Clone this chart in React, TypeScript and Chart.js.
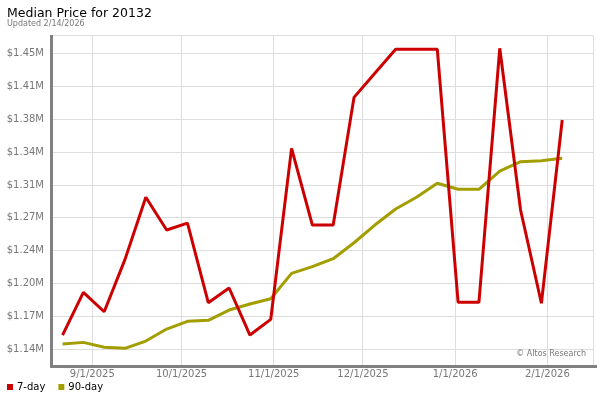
import React, { useEffect, useRef } from "react";
import { Chart, registerables } from "chart.js";

Chart.register(...registerables);

const TITLE = "Median Price for 20132";
const SUBTITLE = "Updated 2/14/2026";
const WATERMARK = "\u00A9 Altos Research";

const dates = [
  "2025-08-22", "2025-08-29", "2025-09-05", "2025-09-12", "2025-09-19",
  "2025-09-26", "2025-10-03", "2025-10-10", "2025-10-17", "2025-10-24",
  "2025-10-31", "2025-11-07", "2025-11-14", "2025-11-21", "2025-11-28",
  "2025-12-05", "2025-12-12", "2025-12-19", "2025-12-26", "2026-01-02",
  "2026-01-09", "2026-01-16", "2026-01-23", "2026-01-30", "2026-02-06",
];

const sevenDay = [
  1150200, 1195100, 1174700, 1229800, 1295100, 1260700, 1268000, 1184200,
  1199700, 1150200, 1166700, 1346600, 1265900, 1265900, 1400200, 1425500,
  1450700, 1450700, 1450700, 1184600, 1184600, 1451800, 1281700, 1183600,
  1376400,
];

const ninetyDay = [
  1140800, 1142500, 1137300, 1136200, 1143900, 1156500, 1164600, 1165700,
  1176500, 1182800, 1188400, 1215100, 1222100, 1230500, 1247300, 1265900,
  1282800, 1295100, 1309800, 1303500, 1303500, 1322700, 1332500, 1333500,
  1336100,
];

const seriesNames = ["7-day", "90-day"];
const seriesColors = ["#cc0000", "#a39e00"];

const yTicks = [
  1135500, 1170000, 1204500, 1239000, 1273500, 1308000, 1342500, 1377000,
  1411500, 1446000,
];
const yMin = 1118700;
const yMax = 1465800;

const xTickDates = [
  "2025-09-01", "2025-10-01", "2025-11-01", "2025-12-01", "2026-01-01", "2026-02-01",
];
const xRangeStart = "2025-08-18";
const xRangeEnd = "2026-02-16";

const dayNum = (s: string) => {
  const [y, m, d] = s.split("-").map(Number);
  return Date.UTC(y, m - 1, d) / 86400000;
};
const fmtDay = (n: number) => {
  const dt = new Date(Math.round(n) * 86400000);
  return `${dt.getUTCMonth() + 1}/${dt.getUTCDate()}/${dt.getUTCFullYear()}`;
};

const FONT = "'DejaVu Sans', Verdana, sans-serif";

const decorPlugin = {
  id: "decor",
  beforeDatasetsDraw(chart: any) {
    const { ctx, chartArea: a } = chart;
    ctx.save();
    ctx.strokeStyle = "#dddddd";
    ctx.lineWidth = 1;
    ctx.beginPath();
    ctx.moveTo(a.left, a.top + 0.5);
    ctx.lineTo(a.right + 0.5, a.top + 0.5);
    ctx.lineTo(a.right + 0.5, a.bottom);
    ctx.stroke();
    // watermark
    ctx.fillStyle = "#777777";
    ctx.font = `8px ${FONT}`;
    ctx.textAlign = "right";
    ctx.textBaseline = "middle";
    ctx.fillText(WATERMARK, a.right - 7, a.bottom - 11);
    ctx.restore();
  },
  afterDraw(chart: any) {
    const { ctx, chartArea: a } = chart;
    ctx.save();
    ctx.strokeStyle = "#808080";
    ctx.lineWidth = 3;
    ctx.beginPath();
    ctx.moveTo(a.left - 0.5, a.top);
    ctx.lineTo(a.left - 0.5, a.bottom + 1.5);
    ctx.lineTo(a.right + 4, a.bottom + 1.5);
    ctx.stroke();
    // legend
    ctx.font = `10px ${FONT}`;
    ctx.textBaseline = "middle";
    ctx.textAlign = "left";
    let x = 7;
    const cy = 387;
    seriesNames.forEach((name, i) => {
      ctx.fillStyle = seriesColors[i];
      ctx.fillRect(x, cy - 3, 6, 6);
      ctx.fillStyle = "#000000";
      ctx.fillText(name, x + 10, cy);
      x += 10 + ctx.measureText(name).width + 13;
    });
    ctx.restore();
  },
};

export default function App() {
  const ref = useRef<HTMLCanvasElement | null>(null);
  useEffect(() => {
    if (!ref.current) return;
    const xs = dates.map(dayNum);
    const chart = new Chart(ref.current, {
      type: "line",
      data: {
        datasets: [
          {
            label: seriesNames[0],
            data: xs.map((x, i) => ({ x, y: sevenDay[i] })),
            borderColor: seriesColors[0],
            backgroundColor: seriesColors[0],
            borderWidth: 3,
            borderJoinStyle: "bevel",
            pointRadius: 0,
            tension: 0,
          },
          {
            label: seriesNames[1],
            data: xs.map((x, i) => ({ x, y: ninetyDay[i] })),
            borderColor: seriesColors[1],
            backgroundColor: seriesColors[1],
            borderWidth: 3,
            borderJoinStyle: "bevel",
            pointRadius: 0,
            tension: 0,
          },
        ],
      },
      options: {
        animation: false,
        responsive: false,
        maintainAspectRatio: false,
        layout: { padding: { left: 7, right: 7, top: 0, bottom: 0 } },
        plugins: {
          legend: { display: false },
          tooltip: { enabled: false },
          title: {
            display: true,
            text: TITLE,
            align: "start",
            color: "#000000",
            font: { family: FONT, size: 12.5, weight: "normal", lineHeight: 1.2 },
            padding: { top: 6.5, bottom: 0 },
          },
          subtitle: {
            display: true,
            text: SUBTITLE,
            align: "start",
            color: "#777777",
            font: { family: FONT, size: 8, weight: "normal", lineHeight: 1.2 },
            padding: { top: -2, bottom: 5.9 },
          },
        },
        scales: {
          x: {
            type: "linear",
            min: dayNum(xRangeStart) + 0.45,
            max: dayNum(xRangeEnd) + 0.35,
            afterFit: (s: any) => { s.height = 35; },
            afterBuildTicks: (s: any) => {
              s.ticks = xTickDates.map((d) => ({ value: dayNum(d) }));
            },
            border: { display: false },
            grid: { color: "#dddddd", drawTicks: false, lineWidth: 1 },
            ticks: {
              color: "#777777",
              padding: 3,
              maxRotation: 0,
              autoSkip: false,
              font: { family: FONT, size: 10 },
              callback: (v: any) => fmtDay(Number(v)),
            },
          },
          y: {
            min: yMin,
            max: yMax,
            afterFit: (s: any) => { s.width = 45; },
            afterBuildTicks: (s: any) => {
              s.ticks = yTicks.map((v) => ({ value: v }));
            },
            border: { display: false },
            grid: { color: "#dddddd", drawTicks: false, lineWidth: 1 },
            ticks: {
              color: "#777777",
              padding: 8,
              autoSkip: false,
              font: { family: FONT, size: 10 },
              callback: (v: any) => "$" + (Number(v) / 1e6).toFixed(2) + "M",
            },
          },
        },
      },
      plugins: [decorPlugin],
    });
    return () => chart.destroy();
  }, []);
  return (
    <div style={{ position: "absolute", left: 0, top: 0, width: 600, height: 400, background: "#ffffff" }}>
      <canvas ref={ref} width={600} height={400} style={{ display: "block" }} />
    </div>
  );
}
